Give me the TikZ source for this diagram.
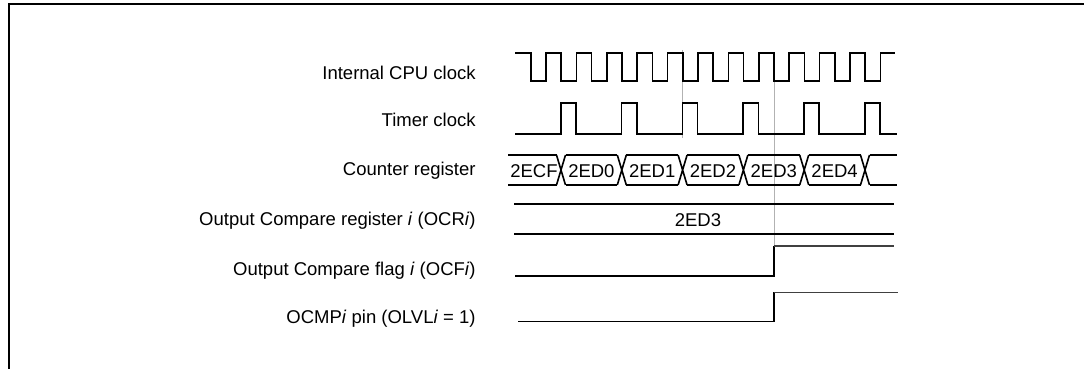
\documentclass[tikz,border=0pt]{standalone}
\usepackage{fontspec}
\setmainfont{Liberation Sans}
\begin{document}
\begin{tikzpicture}[x=0.5pt,y=-0.5pt,
    sig/.style={line width=0.8pt, line join=miter},
    thin sig/.style={line width=0.55pt, black!75},
    marker/.style={line width=0.35pt, black!30},
    label/.style={anchor=base east, inner sep=0pt, font=\fontsize{9.25}{11}\selectfont},
    value/.style={inner sep=0pt, font=\fontsize{9.25}{11}\selectfont}]
    \useasboundingbox (0,0) rectangle (1084,369);

    % Frame
    \draw[line width=1pt] (1084,4.5) -- (8.5,4.5) -- (8.5,369);

    % Signal names
    \node[label] (cpu)  at (476,80)  {Internal CPU clock};
    \node[label] (tmr)  at (476,127) {Timer clock};
    \node[label] (cnt)  at (476,176) {Counter register};
    \node[label] (ocr)  at (476,226) {Output Compare register \textit{i} (OCR\textit{i})};
    \node[label] (ocf)  at (476,276) {Output Compare flag \textit{i} (OCF\textit{i})};
    \node[label] (ocmp) at (476,324) {OCMP\textit{i} pin (OLVL\textit{i} = 1)};

    % Marker lines
    \draw[marker] (682.7,50) -- (682.7,138);
    \draw[marker] (773.9,53) -- (773.9,246);

    % Internal CPU clock
    \draw[sig] (515,53) foreach \k in {0,...,11} {
        -- ({530.7+30.4*\k},53) -- ({530.7+30.4*\k},81)
        -- ({545.9+30.4*\k},81) -- ({545.9+30.4*\k},53) } -- (895,53);

    % Timer clock
    \draw[sig] (515,134) foreach \k in {0,...,5} {
        -- ({560.7+60.8*\k},134) -- ({560.7+60.8*\k},103)
        -- ({575.9+60.8*\k},103) -- ({575.9+60.8*\k},134) } -- (897,134);

    % Counter register
    \draw[sig] (508,155) -- (556.5,155) (508,185) -- (556.5,185);
    \foreach \k in {0,...,5} {
        \draw[sig] ({556.5+60.8*\k},155) -- ({565.5+60.8*\k},185)
                   ({556.5+60.8*\k},185) -- ({565.5+60.8*\k},155);
    }
    \foreach \k in {0,...,4} {
        \draw[sig] ({565.5+60.8*\k},155) -- ({617.3+60.8*\k},155)
                   ({565.5+60.8*\k},185) -- ({617.3+60.8*\k},185);
    }
    \draw[sig] (869.5,155) -- (897,155) (869.5,185) -- (897,185);
    \node[value] (v0) at (534,171) {2ECF};
    \foreach \k/\v in {0/2ED0,1/2ED1,2/2ED2,3/2ED3,4/2ED4}
        \node[value] (v\v) at ({591.4+60.8*\k},171) {\v};

    % Output Compare register
    \draw[sig] (514,204) -- (894,204) (514,234) -- (894,234);
    \node[value] (cmp) at (698,220) {2ED3};

    % Output Compare flag
    \draw[sig] (515,276) -- (773.9,276) -- (773.9,246);
    \draw[thin sig] (773.9,246) -- (894,246);

    % OCMP pin
    \draw[sig] (518,321.5) -- (773.9,321.5) -- (773.9,292.5);
    \draw[thin sig] (773.9,292.5) -- (898,292.5);
\end{tikzpicture}
\end{document}
